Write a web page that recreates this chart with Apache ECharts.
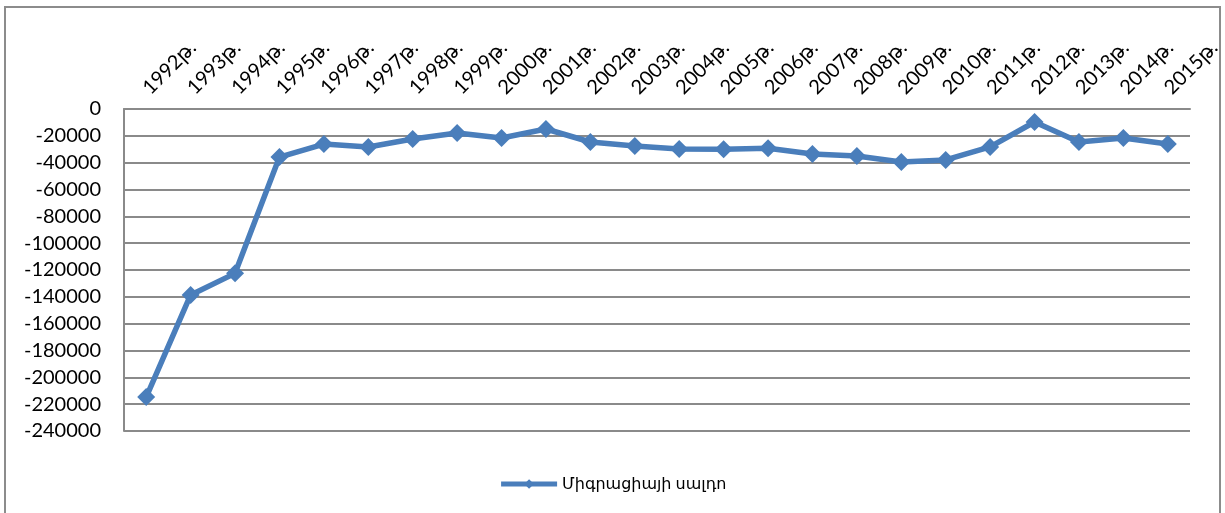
<!DOCTYPE html>
<html>
<head>
<meta charset="utf-8">
<script src="https://cdn.jsdelivr.net/npm/echarts@6/dist/echarts.min.js"></script>
<style>
  html, body { margin: 0; padding: 0; background: #fff; }
  #frame { position: absolute; left: 4px; top: 6px; width: 1213px; height: 520px;
           border-left: 2px solid #8c8c8c; border-top: 2px solid #8c8c8c; border-right: 2px solid #8c8c8c; }
  #chart { position: absolute; left: 0; top: 0; width: 1225px; height: 513px; }
</style>
</head>
<body>
<div id="frame"></div>
<div id="chart"></div>
<script>
// տարիներ
var years = ['1992թ.', '1993թ.', '1994թ.', '1995թ.', '1996թ.', '1997թ.', '1998թ.', '1999թ.',
  '2000թ.', '2001թ.', '2002թ.', '2003թ.', '2004թ.', '2005թ.', '2006թ.', '2007թ.',
  '2008թ.', '2009թ.', '2010թ.', '2011թ.', '2012թ.', '2013թ.', '2014թ.', '2015թ.'];

// միգրացիայի սալդո
var saldo = [-214700, -138600, -122500, -35800, -26100, -28300, -22400, -17900,
  -21600, -14900, -24600, -27600, -29800, -30000, -29300, -33500,
  -35000, -39500, -38000, -28300, -9700, -24600, -21600, -26100];

var seriesName = 'Միգրացիայի սալդո';

var font = 'Lato, "DejaVu Sans", sans-serif';
var gridColor = '#8a8a8a';
var blue = '#4a7ebb';

var myChart = echarts.init(document.getElementById('chart'));
myChart.setOption({
  animation: false,
  grid: { left: 124, right: 35, top: 109, bottom: 82 },
  legend: {
    data: [seriesName],
    left: 'center',
    top: 471,
    itemWidth: 56,
    itemHeight: 12,
    itemGap: 6,
    lineStyle: { width: 5 },
    textStyle: { fontFamily: font, fontSize: 16, color: '#000' }
  },
  xAxis: {
    type: 'category',
    position: 'top',
    data: years,
    boundaryGap: true,
    axisLine: { show: true, lineStyle: { color: gridColor, width: 2 } },
    axisTick: { show: false },
    axisLabel: {
      rotate: 45,
      interval: 0,
      margin: 18,
      fontFamily: font,
      fontSize: 20,
      color: '#000'
    }
  },
  yAxis: {
    type: 'value',
    min: -240000,
    max: 0,
    interval: 20000,
    axisLine: { show: true, lineStyle: { color: gridColor, width: 2 } },
    axisTick: { show: false },
    splitLine: { show: true, lineStyle: { color: gridColor, width: 2 } },
    axisLabel: {
      margin: 23,
      fontFamily: font,
      fontSize: 20,
      color: '#000',
      formatter: function (v) { return String(v); }
    }
  },
  series: [
    {
      name: seriesName,
      type: 'line',
      data: saldo,
      symbol: 'diamond',
      symbolSize: 18,
      itemStyle: { color: blue },
      lineStyle: { color: blue, width: 5.5 }
    }
  ]
});
</script>
</body>
</html>
